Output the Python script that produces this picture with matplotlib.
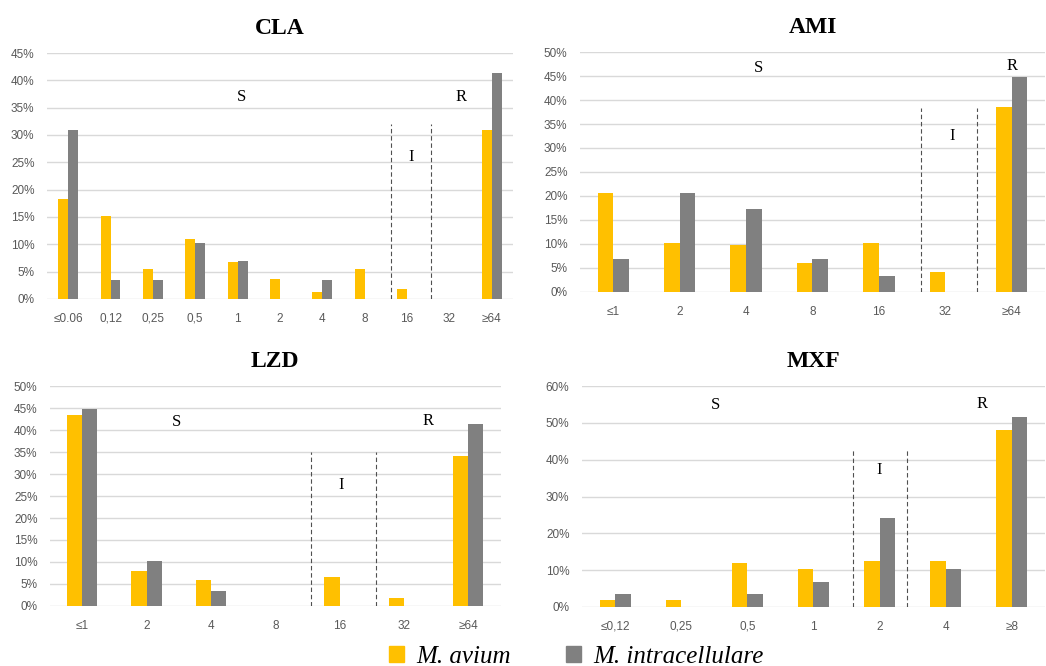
import matplotlib
matplotlib.use("Agg")
import matplotlib.pyplot as plt
import numpy as np
from matplotlib.patches import Patch
from matplotlib.ticker import MultipleLocator, PercentFormatter

# values in percent
cla_labels = ["≤0.06", "0,12", "0,25", "0,5", "1", "2", "4", "8", "16", "32", "≥64"]
cla_avium = [18.2, 15.2, 5.5, 10.9, 6.7, 3.6, 1.2, 5.5, 1.8, 0, 31.0]
cla_intra = [31.0, 3.4, 3.4, 10.3, 6.9, 0, 3.4, 0, 0, 0, 41.4]

ami_labels = ["≤1", "2", "4", "8", "16", "32", "≥64"]
ami_avium = [20.7, 10.3, 9.8, 6.0, 10.3, 4.2, 38.5]
ami_intra = [6.9, 20.7, 17.2, 6.9, 3.4, 0, 44.8]

lzd_labels = ["≤1", "2", "4", "8", "16", "32", "≥64"]
lzd_avium = [43.3, 7.9, 6.0, 0, 6.6, 1.8, 34.1]
lzd_intra = [44.8, 10.3, 3.4, 0, 0, 0, 41.4]

mxf_labels = ["≤0,12", "0,25", "0,5", "1", "2", "4", "≥8"]
mxf_avium = [1.8, 1.8, 12.0, 10.2, 12.6, 12.6, 48.1]
mxf_intra = [3.4, 0, 3.4, 6.9, 24.1, 10.3, 51.7]

YELLOW = "#FFC000"
GREY = "#808080"
TXT = "#595959"
SANS = ["Liberation Sans", "DejaVu Sans"]
SERIF = ["Liberation Serif", "DejaVu Serif"]

fig = plt.figure(figsize=(10.46, 6.66), dpi=100)

panels = [
    # title, labels, avium, intra, rect, ymax, ystep, dashed (x, top), S, I, R
    ("CLA", cla_labels, cla_avium, cla_intra, [0.0449, 0.5511, 0.4455, 0.3693],
     45, 5, [(7.62, 32), (8.56, 32)], (4.09, 37), (8.10, 26), (9.28, 37)),
    ("AMI", ami_labels, ami_avium, ami_intra, [0.5545, 0.5616, 0.4445, 0.3603],
     50, 5, [(4.63, 38.3), (5.48, 38.3)], (2.19, 46.7), (5.1, 32.5), (6.0, 47)),
    ("LZD", lzd_labels, lzd_avium, lzd_intra, [0.0478, 0.0901, 0.4307, 0.3303],
     50, 5, [(3.55, 35), (4.56, 35)], (1.46, 41.9), (4.03, 27.5), (5.37, 42)),
    ("MXF", mxf_labels, mxf_avium, mxf_intra, [0.5564, 0.0886, 0.4426, 0.3318],
     60, 10, [(3.6, 42.6), (4.42, 43)], (1.52, 54.8), (3.99, 37.2), (5.55, 55)),
]

w = 0.235
for title, labels, av, intra, rect, ymax, ystep, dashed, s_pos, i_pos, r_pos in panels:
    ax = fig.add_axes(rect)
    x = np.arange(len(labels))
    ax.bar(x - w / 2, av, width=w, color=YELLOW, zorder=3)
    ax.bar(x + w / 2, intra, width=w, color=GREY, zorder=3)
    ax.set_xlim(-0.5, len(labels) - 0.5)
    ax.set_ylim(0, ymax)
    ax.yaxis.set_major_locator(MultipleLocator(ystep))
    ax.yaxis.set_major_formatter(PercentFormatter(decimals=0))
    ax.grid(axis="y", color="#D9D9D9", lw=1, zorder=0)
    ax.set_axisbelow(True)
    for sp in ax.spines.values():
        sp.set_visible(False)
    ax.set_xticks(x)
    ax.set_xticklabels(labels, fontfamily=SANS)
    ax.tick_params(axis="both", length=0, colors=TXT, labelsize=8.5)
    ax.tick_params(axis="x", pad=10)
    ax.tick_params(axis="y", pad=9)
    for lab in ax.get_yticklabels():
        lab.set_fontfamily(SANS)
    for dx, top in dashed:
        ax.plot([dx, dx], [0, top], color="#505050", lw=0.8,
                ls=(0, (4, 2.5)), zorder=4)
    for txt, (tx, ty) in zip("SIR", (s_pos, i_pos, r_pos)):
        ax.text(tx, ty, txt, ha="center", va="center", fontsize=12,
                fontfamily=SERIF, color="black")
    ax.set_title(title, fontsize=17, fontweight="bold", fontfamily=SERIF,
                 pad=14)

handles = [Patch(color=YELLOW, label="M. avium"),
           Patch(color=GREY, label="M. intracellulare")]
leg = fig.legend(handles=handles, loc="center", bbox_to_anchor=(0.551, 0.014),
                 ncol=2, frameon=False, handlelength=0.6, handleheight=0.6,
                 columnspacing=2.2, handletextpad=0.5,
                 prop={"family": SERIF, "style": "italic", "size": 18})

fig.savefig("out.png", dpi=100)
